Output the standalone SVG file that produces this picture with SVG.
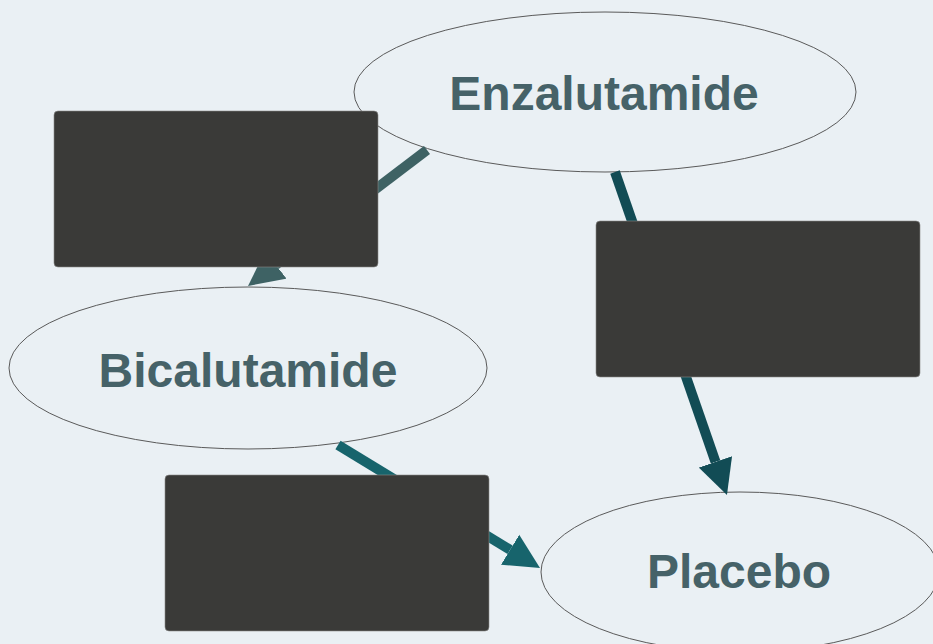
<svg xmlns="http://www.w3.org/2000/svg" width="933" height="644" viewBox="0 0 933 644">
  <style>
    .node ellipse { fill: #eaf0f4; stroke: #5a5a5a; stroke-width: 1; }
    .node text { font-family: "Liberation Sans", Arial, sans-serif; font-weight: bold; font-size: 48px; fill: #466268; text-anchor: middle; }
    .edge { fill: none; stroke-width: 10; stroke-linecap: butt; }
    .label { fill: #3a3a38; stroke: #8a8a88; stroke-width: 0.6; }
  </style>
  <defs>
    <marker id="head-a" viewBox="0 0 10 10" refX="0" refY="5" markerWidth="3.5" markerHeight="3.6" orient="auto">
      <path d="M0,0 L10,5 L0,10 z" fill="#3e6264"/>
    </marker>
    <marker id="head-b" viewBox="0 0 10 10" refX="0" refY="5" markerWidth="3.5" markerHeight="3.6" orient="auto">
      <path d="M0,0 L10,5 L0,10 z" fill="#124c55"/>
    </marker>
    <marker id="head-c" viewBox="0 0 10 10" refX="0" refY="5" markerWidth="3.5" markerHeight="3.6" orient="auto">
      <path d="M0,0 L10,5 L0,10 z" fill="#17646c"/>
    </marker>
  </defs>

  <rect width="933" height="644" fill="#eaf0f4"/>

  <!-- treatment nodes -->
  <g id="node-enzalutamide" class="node">
    <ellipse cx="605" cy="92" rx="251" ry="80"/>
  </g>
  <g id="node-bicalutamide" class="node">
    <ellipse cx="248" cy="368" rx="239" ry="81"/>
  </g>
  <g id="node-placebo" class="node">
    <ellipse cx="740" cy="572" rx="199" ry="80"/>
  </g>

  <!-- comparisons -->
  <g id="connectors">
    <line class="edge" x1="427" y1="150" x2="275.9" y2="264.8" stroke="#3e6264" marker-end="url(#head-a)"/>
    <line class="edge" x1="615" y1="172" x2="715.5" y2="461.9" stroke="#124c55" marker-end="url(#head-b)"/>
    <line class="edge" x1="338" y1="445" x2="510.1" y2="549.8" stroke="#17646c" marker-end="url(#head-c)"/>
  </g>

  <!-- edge label boxes -->
  <g id="label-enz-bic">
    <rect class="label" x="54" y="111" width="324" height="156" rx="4"/>
  </g>
  <g id="label-enz-pla">
    <rect class="label" x="596" y="221" width="324" height="156" rx="4"/>
  </g>
  <g id="label-bic-pla">
    <rect class="label" x="165" y="475" width="324" height="156" rx="4"/>
  </g>

  <!-- node names -->
  <g id="names" class="node">
    <text x="604" y="110">Enzalutamide</text>
    <text x="248" y="387">Bicalutamide</text>
    <text x="739" y="588">Placebo</text>
  </g>
</svg>
